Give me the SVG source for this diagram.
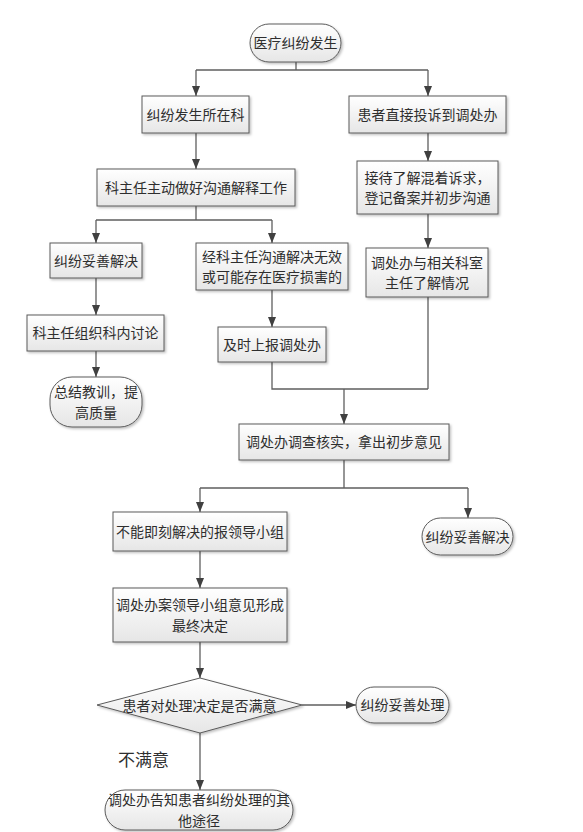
<svg xmlns="http://www.w3.org/2000/svg" width="583" height="832" viewBox="0 0 583 832">
<style>
.box{fill:url(#g);stroke:#5a5a5a;stroke-width:1;filter:url(#sh)}
.t{font-family:"Noto Sans CJK SC","Noto Sans",sans-serif;font-size:14px;fill:#2e2e2e;text-anchor:middle}
.c{fill:none;stroke:#5f5f5f;stroke-width:1.3}
.ca{fill:none;stroke:#5f5f5f;stroke-width:1.3;marker-end:url(#ah)}
</style>
<defs>
<linearGradient id="g" x1="0" y1="0" x2="0" y2="1">
<stop offset="0" stop-color="#ffffff"/>
<stop offset="1" stop-color="#e6e6e6"/>
</linearGradient>
<filter id="sh" x="-10%" y="-10%" width="130%" height="140%">
<feDropShadow dx="1.5" dy="1.5" stdDeviation="1" flood-color="#000" flood-opacity="0.25"/>
</filter>
<marker id="ah" markerUnits="userSpaceOnUse" markerWidth="10" markerHeight="10" viewBox="0 0 10 10" refX="10" refY="5" orient="auto">
<path d="M0,1 L10,5 L0,9 Z" fill="#404040"/>
</marker>
</defs>
<rect width="583" height="832" fill="#ffffff"/>

<g id="connectors">
<path class="c" d="M296,62 V70 M196,70 H428"/>
<path class="ca" d="M196,70 V96"/>
<path class="ca" d="M428,70 V96"/>
<path class="ca" d="M196,133 V169"/>
<path class="c" d="M196,206 V220 M96,220 H272"/>
<path class="ca" d="M96,220 V243"/>
<path class="ca" d="M272,220 V243"/>
<path class="ca" d="M96,278 V315"/>
<path class="ca" d="M96,351 V377"/>
<path class="ca" d="M272,290 V327"/>
<path class="ca" d="M428,133 V161"/>
<path class="ca" d="M428,214 V248"/>
<path class="c" d="M272,362 V389 H428 M428,297 V389"/>
<path class="ca" d="M344,389 V424"/>
<path class="c" d="M344,460 V488 M200,488 H468"/>
<path class="ca" d="M200,488 V512"/>
<path class="ca" d="M468,488 V518"/>
<path class="ca" d="M200,551 V588"/>
<path class="ca" d="M200,642 V678"/>
<path class="ca" d="M302,705 H356"/>
<path class="ca" d="M200,733 V790"/>
<text x="118" y="766" font-family="'Noto Sans CJK SC',sans-serif" font-size="17" fill="#2e2e2e">不满意</text>
</g>

<g id="start">
<rect class="box" x="250" y="24" width="91" height="38" rx="19"/>
<text class="t" x="295.5" y="48">医疗纠纷发生</text>
</g>
<g id="dept">
<rect class="box" x="142" y="96" width="107" height="37"/>
<text class="t" x="195.5" y="119.5">纠纷发生所在科</text>
</g>
<g id="complaint">
<rect class="box" x="349" y="96" width="157" height="37"/>
<text class="t" x="427.5" y="119.5">患者直接投诉到调处办</text>
</g>
<g id="director">
<rect class="box" x="97" y="169" width="198" height="37"/>
<text class="t" x="196" y="192.5">科主任主动做好沟通解释工作</text>
</g>
<g id="resolved1">
<rect class="box" x="50" y="243" width="92" height="35"/>
<text class="t" x="96" y="265.5">纠纷妥善解决</text>
</g>
<g id="ineffective">
<rect class="box" x="196" y="243" width="152" height="47"/>
<text class="t" x="272" y="261.5">经科主任沟通解决无效<tspan x="272" dy="20.5">或可能存在医疗损害的</tspan></text>
</g>
<g id="reception">
<rect class="box" x="357" y="161" width="141" height="53"/>
<text class="t" x="427.5" y="182.5">接待了解混着诉求，<tspan x="427.5" dy="20.5">登记备案并初步沟通</tspan></text>
</g>
<g id="liaison">
<rect class="box" x="366" y="248" width="122" height="49"/>
<text class="t" x="427" y="267.5">调处办与相关科室<tspan x="427" dy="20.5">主任了解情况</tspan></text>
</g>
<g id="discuss">
<rect class="box" x="27" y="315" width="137" height="36"/>
<text class="t" x="95.5" y="338">科主任组织科内讨论</text>
</g>
<g id="summary">
<rect class="box" x="50" y="377" width="92" height="50" rx="22"/>
<text class="t" x="96" y="397">总结教训，提<tspan x="96" dy="20.5">高质量</tspan></text>
</g>
<g id="report">
<rect class="box" x="218" y="327" width="108" height="35"/>
<text class="t" x="272" y="349.5">及时上报调处办</text>
</g>
<g id="investigate">
<rect class="box" x="239" y="424" width="210" height="36"/>
<text class="t" x="344" y="447">调处办调查核实，拿出初步意见</text>
</g>
<g id="leader">
<rect class="box" x="113" y="512" width="174" height="39"/>
<text class="t" x="200" y="536.5">不能即刻解决的报领导小组</text>
</g>
<g id="resolved2">
<rect class="box" x="422" y="518" width="91" height="37" rx="18.5"/>
<text class="t" x="467.5" y="541.5">纠纷妥善解决</text>
</g>
<g id="decision">
<rect class="box" x="113" y="588" width="174" height="54"/>
<text class="t" x="200" y="610">调处办案领导小组意见形成<tspan x="200" dy="20.5">最终决定</tspan></text>
</g>
<g id="satisfied">
<polygon class="box" points="97,705 200,678 302,705 200,733"/>
<text class="t" x="199.5" y="710.5">患者对处理决定是否满意</text>
</g>
<g id="resolved3">
<rect class="box" x="356" y="687" width="93" height="36" rx="18"/>
<text class="t" x="402.5" y="710">纠纷妥善处理</text>
</g>
<g id="other">
<rect class="box" x="105" y="790" width="188" height="40" rx="20"/>
<text class="t" x="199" y="805">调处办告知患者纠纷处理的其<tspan x="199" dy="20.5">他途径</tspan></text>
</g>
</svg>
